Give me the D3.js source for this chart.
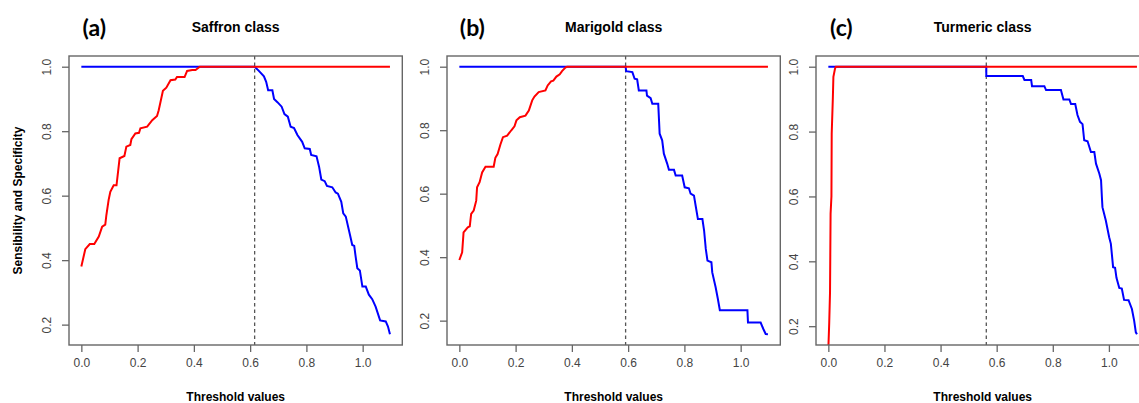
<!DOCTYPE html>
<html>
<head>
<meta charset="utf-8">
<script src="https://cdn.jsdelivr.net/npm/d3@7"></script>
<style>
  body { margin: 0; background: #fff; }
  svg { display: block; }
</style>
</head>
<body>
<svg id="chart"></svg>
<script>
// values: [threshold, value]
const saffronSpecificity = [[0,0.38],[0.014,0.434],[0.03,0.45],[0.046,0.45],[0.062,0.473],[0.074,0.504],[0.085,0.51],[0.089,0.54],[0.097,0.587],[0.103,0.612],[0.115,0.632],[0.125,0.632],[0.136,0.716],[0.153,0.723],[0.16,0.752],[0.174,0.757],[0.178,0.775],[0.192,0.793],[0.205,0.795],[0.21,0.809],[0.234,0.814],[0.252,0.834],[0.269,0.847],[0.275,0.865],[0.29,0.925],[0.302,0.935],[0.317,0.958],[0.334,0.96],[0.34,0.968],[0.367,0.968],[0.376,0.987],[0.394,0.99],[0.406,0.99],[0.421,1],[1.097,1]];
const saffronSensitivity = [[0,1],[0.616,1],[0.631,0.987],[0.649,0.97],[0.657,0.953],[0.664,0.927],[0.679,0.927],[0.685,0.9],[0.697,0.89],[0.712,0.876],[0.722,0.853],[0.734,0.845],[0.744,0.814],[0.756,0.81],[0.768,0.788],[0.785,0.767],[0.794,0.747],[0.812,0.745],[0.817,0.726],[0.836,0.722],[0.845,0.69],[0.853,0.65],[0.865,0.645],[0.873,0.63],[0.892,0.626],[0.904,0.61],[0.912,0.606],[0.924,0.581],[0.931,0.545],[0.94,0.535],[0.955,0.478],[0.963,0.447],[0.97,0.444],[0.975,0.411],[0.981,0.375],[0.99,0.368],[0.999,0.318],[1.011,0.318],[1.022,0.293],[1.034,0.279],[1.046,0.256],[1.062,0.213],[1.082,0.21],[1.09,0.194],[1.097,0.17]];

const marigoldSpecificity = [[0,0.391],[0.01,0.415],[0.015,0.478],[0.03,0.494],[0.037,0.497],[0.042,0.536],[0.051,0.547],[0.06,0.578],[0.063,0.62],[0.072,0.636],[0.081,0.667],[0.093,0.685],[0.122,0.685],[0.128,0.713],[0.136,0.725],[0.146,0.755],[0.155,0.778],[0.17,0.783],[0.184,0.799],[0.196,0.812],[0.203,0.831],[0.215,0.841],[0.235,0.846],[0.247,0.862],[0.259,0.894],[0.267,0.906],[0.282,0.92],[0.306,0.925],[0.314,0.941],[0.326,0.954],[0.334,0.956],[0.345,0.969],[0.357,0.976],[0.365,0.986],[0.377,0.997],[0.383,1],[1.097,1]];
const marigoldSensitivity = [[0,1],[0.591,1],[0.593,0.986],[0.615,0.983],[0.623,0.962],[0.632,0.96],[0.638,0.925],[0.665,0.925],[0.667,0.909],[0.68,0.901],[0.686,0.883],[0.707,0.883],[0.712,0.789],[0.721,0.768],[0.727,0.726],[0.739,0.694],[0.745,0.675],[0.763,0.675],[0.769,0.657],[0.792,0.657],[0.801,0.62],[0.816,0.617],[0.822,0.6],[0.834,0.594],[0.84,0.562],[0.848,0.52],[0.864,0.52],[0.87,0.484],[0.876,0.426],[0.882,0.389],[0.896,0.384],[0.899,0.352],[0.911,0.305],[0.919,0.268],[0.926,0.233],[1.024,0.233],[1.026,0.194],[1.071,0.194],[1.081,0.173],[1.089,0.158],[1.097,0.157]];

const turmericSpecificity = [[0,0.13],[0.003,0.207],[0.006,0.305],[0.008,0.547],[0.011,0.6],[0.012,0.794],[0.016,0.902],[0.018,0.969],[0.024,0.995],[0.027,1],[1.1,1]];
const turmericSensitivity = [[0,1],[0.563,1],[0.563,0.971],[0.693,0.971],[0.699,0.959],[0.723,0.959],[0.726,0.94],[0.77,0.94],[0.776,0.928],[0.829,0.928],[0.838,0.899],[0.859,0.899],[0.865,0.885],[0.88,0.885],[0.888,0.851],[0.897,0.83],[0.906,0.823],[0.912,0.773],[0.924,0.77],[0.936,0.737],[0.948,0.737],[0.954,0.701],[0.966,0.67],[0.972,0.65],[0.975,0.598],[0.977,0.567],[0.989,0.526],[1.001,0.474],[1.007,0.454],[1.015,0.382],[1.022,0.38],[1.027,0.349],[1.037,0.318],[1.046,0.316],[1.054,0.281],[1.07,0.28],[1.082,0.253],[1.09,0.217],[1.096,0.181],[1.1,0.175]];

const letters = ["(a)", "(b)", "(c)"];
const titles = ["Saffron class", "Marigold class", "Turmeric class"];
const cutoffs = [0.616, 0.591, 0.563];
const xTicks = [0, 0.2, 0.4, 0.6, 0.8, 1.0];
const yTicks = [0.2, 0.4, 0.6, 0.8, 1.0];

const specs = [saffronSpecificity, marigoldSpecificity, turmericSpecificity];
const sens = [saffronSensitivity, marigoldSensitivity, turmericSensitivity];

const width = 1139, height = 403;
const panelLeft = [69, 447, 816];
const panelTop = 56, panelW = 333.3, panelH = 289;
const axisColor = "#666", labelColor = "#444";
const font = "'Liberation Sans', Arial, sans-serif";

const svg = d3.select("#chart").attr("width", width).attr("height", height);

// R style: data range padded 4% on each side
const pad = (lo, hi) => [lo - (hi - lo) * 0.04, hi + (hi - lo) * 0.04];

letters.forEach((letter, i) => {
  const xMax = d3.max(sens[i], (d) => d[0]);
  const yMin = d3.min(sens[i], (d) => d[1]);

  const x = d3.scaleLinear().domain(pad(0, xMax)).range([0, panelW]);
  const y = d3.scaleLinear().domain(pad(yMin, 1)).range([panelH, 0]);

  const g = svg.append("g").attr("transform", `translate(${panelLeft[i]},${panelTop})`);

  g.append("clipPath").attr("id", `clip${i}`)
    .append("rect").attr("width", panelW).attr("height", panelH);

  const line = d3.line().x((d) => x(d[0])).y((d) => y(d[1]));
  const plot = g.append("g").attr("clip-path", `url(#clip${i})`);

  plot.append("line")
    .attr("x1", x(cutoffs[i])).attr("x2", x(cutoffs[i]))
    .attr("y1", 0).attr("y2", panelH)
    .attr("stroke", "#555").attr("stroke-width", 1.3)
    .attr("stroke-dasharray", "3.5,3");

  plot.append("path").datum(sens[i])
    .attr("fill", "none").attr("stroke", "#0000ff").attr("stroke-width", 2)
    .attr("d", line);

  plot.append("path").datum(specs[i])
    .attr("fill", "none").attr("stroke", "#ff0000").attr("stroke-width", 2)
    .attr("d", line);

  g.append("rect")
    .attr("width", panelW).attr("height", panelH)
    .attr("fill", "none").attr("stroke", axisColor).attr("stroke-width", 1.4);

  // x axis
  const xa = g.append("g").attr("transform", `translate(0,${panelH})`)
    .call(d3.axisBottom(x).tickValues(xTicks).tickFormat(d3.format(".1f")).tickSize(7).tickPadding(6))
    .call((a) => a.select(".domain").remove());
  xa.selectAll("line").attr("stroke", axisColor).attr("stroke-width", 1.3);
  xa.selectAll("text").attr("fill", labelColor).attr("font-size", 12).attr("font-family", font);

  // y axis with labels parallel to the axis
  const ya = g.append("g")
    .call(d3.axisLeft(y).tickValues(yTicks).tickFormat(d3.format(".1f")).tickSize(7))
    .call((a) => a.select(".domain").remove());
  ya.selectAll("line").attr("stroke", axisColor).attr("stroke-width", 1.3);
  ya.selectAll("text")
    .attr("fill", labelColor).attr("font-size", 12).attr("font-family", font)
    .attr("x", 0).attr("dy", 0)
    .attr("text-anchor", "middle").attr("dominant-baseline", "central")
    .attr("transform", "translate(-22,0) rotate(-90)");

  g.append("text")
    .attr("x", panelW / 2).attr("y", panelH + 52)
    .attr("text-anchor", "middle").attr("dominant-baseline", "central")
    .attr("font-family", font).attr("font-weight", "bold").attr("font-size", 12)
    .attr("fill", "#000")
    .text("Threshold values");

  g.append("text")
    .attr("x", panelW / 2).attr("y", 27 - panelTop)
    .attr("text-anchor", "middle").attr("dominant-baseline", "central")
    .attr("font-family", font).attr("font-weight", "bold").attr("font-size", 14)
    .attr("fill", "#000")
    .text(titles[i]);

  g.append("text")
    .attr("x", x(0) + 13).attr("y", 27 - panelTop)
    .attr("text-anchor", "middle").attr("dominant-baseline", "central")
    .attr("font-family", "Lato, 'Open Sans', sans-serif").attr("font-weight", "bold").attr("font-size", 23)
    .attr("fill", "#000")
    .text(letter);

  if (i === 0) {
    g.append("text")
      .attr("transform", `translate(${18 - panelLeft[0]},${panelH / 2}) rotate(-90)`)
      .attr("text-anchor", "middle").attr("dominant-baseline", "central")
      .attr("font-family", font).attr("font-weight", "bold").attr("font-size", 12)
      .attr("fill", "#000")
      .text("Sensibility and Specificity");
  }
});
</script>
</body>
</html>
